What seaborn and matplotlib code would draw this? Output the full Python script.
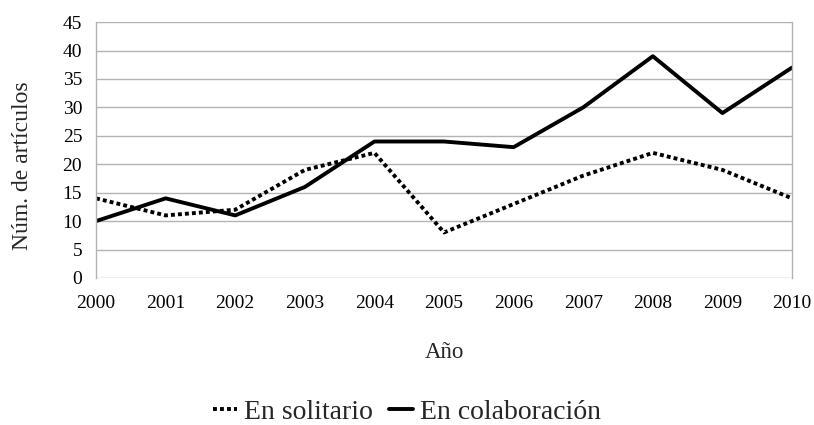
import pandas as pd
import seaborn as sns
import matplotlib.pyplot as plt

years = [2000, 2001, 2002, 2003, 2004, 2005, 2006, 2007, 2008, 2009, 2010]
solitario = [14, 11, 12, 19, 22, 8, 13, 18, 22, 19, 14]
colaboracion = [10, 14, 11, 16, 24, 24, 23, 30, 39, 29, 37]
series_names = ["En solitario", "En colaboración"]

df = pd.DataFrame({
    "Año": years * 2,
    "valor": solitario + colaboracion,
    "serie": [series_names[0]] * len(years) + [series_names[1]] * len(years),
})

sns.set_style("white")
plt.rcParams["font.family"] = ["Liberation Serif", "DejaVu Serif"]

fig = plt.figure(figsize=(8.14, 4.25), dpi=100)
ax = fig.add_axes([0.118, 0.346, 0.855, 0.602])

sns.lineplot(data=df, x="Año", y="valor", hue="serie", style="serie",
             palette=["black", "black"], dashes=[(1, 0.8), ""],
             linewidth=2.8, ax=ax, legend=False)

ax.set_xlim(2000, 2010)
ax.set_ylim(0, 45)
ax.set_xticks(years)
ax.set_yticks(range(0, 46, 5))
ax.grid(axis="y", color="#b3b3b3", linewidth=1)
for s in ["top", "bottom"]:
    ax.spines[s].set_visible(False)
for s in ["left", "right"]:
    ax.spines[s].set_color("#b3b3b3")
    ax.spines[s].set_linewidth(1)
ax.tick_params(axis="both", colors="#b3b3b3", labelcolor="black",
               labelsize=14, length=8, width=1, direction="out")
ax.tick_params(axis="y", pad=2)
ax.tick_params(axis="x", pad=4)
ax.set_axisbelow(True)

ax.set_xlabel("Año", fontsize=16.5, labelpad=22)
ax.set_ylabel("Núm. de artículos", fontsize=17)
ax.yaxis.set_label_coords(-0.091, 0.44)

handles = [plt.Line2D([], [], color="black", linewidth=2.8, dashes=(1, 0.8)),
           plt.Line2D([], [], color="black", linewidth=2.8)]
fig.legend(handles, series_names, loc="center", bbox_to_anchor=(0.5, 0.03),
           ncol=2, frameon=False, fontsize=20, handlelength=0.85,
           handletextpad=0.25, columnspacing=0.6)

fig.savefig("out.png", dpi=100)
